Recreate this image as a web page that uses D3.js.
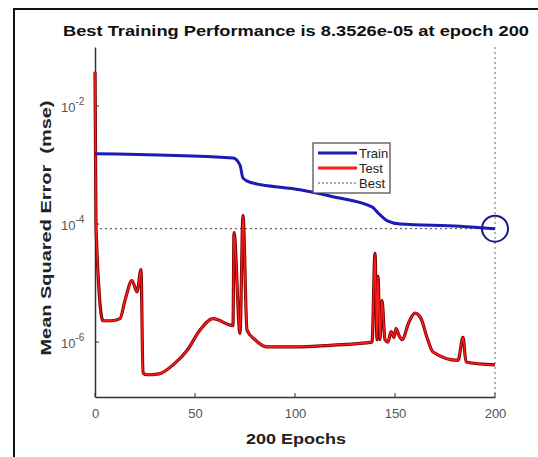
<!DOCTYPE html>
<html>
<head>
<meta charset="utf-8">
<script src="https://cdn.jsdelivr.net/npm/d3@7"></script>
<style>
  html, body { margin: 0; padding: 0; background: #fff; }
  svg { display: block; }
  text { font-family: "Liberation Sans", Arial, Helvetica, sans-serif; }
</style>
</head>
<body>
<svg id="chart" width="538" height="457"></svg>
<script>
// ---- data ----
const titleText = "Best Training Performance is 8.3526e-05 at epoch 200";
const xLabelText = "200 Epochs";
const yLabelText = "Mean Squared Error  (mse)";
const xTicks = [0, 50, 100, 150, 200];
const yTickExps = [-2, -4, -6];
const legendLabels = ["Train", "Test", "Best"];

const trainEpochs = [0, 69, 72.5, 74, 77.5, 102.5, 119, 138.5, 141.5, 146.5, 152.5, 182.5, 200];
const trainMse    = [1.55e-3, 1.32e-3, 1.0e-3, 6.0e-4, 5.1e-4, 3.8e-4, 2.9e-4, 1.95e-4, 1.55e-4, 1.12e-4, 1.0e-4, 9.2e-5, 8.3526e-5];

const testEpochs = [0, 0.5, 4, 8, 12.5, 15, 18.5, 21, 23, 24, 26, 32, 40, 46, 52.5, 59, 69, 69.5, 72.5, 74, 76, 80, 86, 100, 119, 138.5, 140, 141, 141.5, 142.5, 143.5, 145, 146.5, 148, 149.5, 150.5, 152, 153.5, 157, 160, 163, 166, 169, 181.5, 184, 185.5, 200];
const testMse    = [3.8e-2, 8.9e-5, 2.3e-6, 2.3e-6, 2.5e-6, 5.1e-6, 1.1e-5, 7.1e-6, 1.7e-5, 3.0e-7, 2.8e-7, 2.9e-7, 4.4e-7, 7.2e-7, 1.6e-6, 2.5e-6, 1.9e-6, 7.2e-5, 1.4e-6, 1.4e-4, 1.6e-6, 1.1e-6, 8.3e-7, 8.3e-7, 8.9e-7, 1.0e-6, 3.2e-5, 1.1e-6, 1.3e-5, 1.1e-6, 5.1e-6, 1.1e-6, 1.0e-6, 1.5e-6, 1.2e-6, 1.7e-6, 1.3e-6, 1.1e-6, 2.2e-6, 3.1e-6, 2.5e-6, 1.2e-6, 6.8e-7, 4.9e-7, 1.2e-6, 4.6e-7, 4.1e-7];

const bestEpoch = 200;
const bestMse = 8.3526e-5;

// ---- layout ----
const svg = d3.select("#chart");
const pL = 95, pR = 495, pT = 47, pB = 397;

const x = d3.scaleLinear().domain([0, 200]).range([pL, pR]);
const y = d3.scaleLog().domain([Math.pow(10, -6.93), Math.pow(10, -1)]).range([pB, pT]);

// outer frame
svg.append("rect").attr("x", 14).attr("y", 9).attr("width", 540).attr("height", 460)
  .attr("fill", "none").attr("stroke", "#111").attr("stroke-width", 2);

// title
svg.append("text").attr("x", 296).attr("y", 36).attr("text-anchor", "middle")
  .attr("font-size", 15).attr("font-weight", "bold").attr("fill", "#111")
  .attr("textLength", 466).attr("lengthAdjust", "spacingAndGlyphs")
  .text(titleText);

// best lines (dotted)
svg.append("line").attr("x1", x(0)).attr("x2", x(200)).attr("y1", y(bestMse)).attr("y2", y(bestMse))
  .attr("stroke", "#444").attr("stroke-width", 1).attr("stroke-dasharray", "2,3");
svg.append("line").attr("x1", x(bestEpoch)).attr("x2", x(bestEpoch)).attr("y1", pT).attr("y2", pB)
  .attr("stroke", "#666").attr("stroke-width", 1).attr("stroke-dasharray", "2,3");

// axes
const xAxis = d3.axisBottom(x).tickValues(xTicks).tickSize(0).tickPadding(0).tickFormat(d3.format("d"));
const gx = svg.append("g").attr("transform", `translate(0,${pB})`).call(xAxis);
gx.select(".domain").attr("stroke", "#333").attr("stroke-width", 1.5);
gx.selectAll(".tick text").attr("y", 12).attr("font-size", 13).attr("fill", "#555")
  .attr("font-family", "Liberation Sans, Arial, sans-serif");
svg.append("g").selectAll("line").data(xTicks).join("line")
  .attr("x1", d => x(d)).attr("x2", d => x(d)).attr("y1", pB).attr("y2", pB - 4)
  .attr("stroke", "#333").attr("stroke-width", 1);

const yAxis = d3.axisLeft(y).tickValues(yTickExps.map(e => Math.pow(10, e))).tickSize(0).tickFormat("");
const gy = svg.append("g").attr("transform", `translate(${pL},0)`).call(yAxis);
gy.select(".domain").attr("stroke", "#333").attr("stroke-width", 1.5);
svg.append("g").selectAll("line").data(yTickExps).join("line")
  .attr("x1", pL).attr("x2", pL + 4).attr("y1", d => y(Math.pow(10, d))).attr("y2", d => y(Math.pow(10, d)))
  .attr("stroke", "#333").attr("stroke-width", 1);
const ylab = svg.append("g").selectAll("text").data(yTickExps).join("text")
  .attr("x", 61).attr("y", d => y(Math.pow(10, d)) + 6)
  .attr("font-size", 13).attr("fill", "#555");
ylab.append("tspan").text("10");
ylab.append("tspan").attr("dy", -7).attr("font-size", 10).text(d => String(d));

// axis labels
svg.append("text").attr("x", 296).attr("y", 444).attr("text-anchor", "middle")
  .attr("font-size", 15).attr("font-weight", "bold").attr("fill", "#222")
  .attr("textLength", 100).attr("lengthAdjust", "spacingAndGlyphs")
  .text(xLabelText);
svg.append("text").attr("transform", "translate(51,228) rotate(-90)").attr("text-anchor", "middle")
  .attr("font-size", 15).attr("font-weight", "bold").attr("fill", "#222")
  .style("white-space", "pre")
  .attr("textLength", 255).attr("lengthAdjust", "spacingAndGlyphs")
  .text(yLabelText);

// lines
const line = d3.line().x(d => x(d[0])).y(d => y(d[1])).curve(d3.curveMonotoneX);
const trainData = trainEpochs.map((e, i) => [e, trainMse[i]]);
const testData = testEpochs.map((e, i) => [e, testMse[i]]);

svg.append("path").datum(testData).attr("d", line).attr("fill", "none")
  .attr("stroke", "#7a0000").attr("stroke-width", 3.2).attr("stroke-linejoin", "round");
svg.append("path").datum(testData).attr("d", line).attr("fill", "none")
  .attr("stroke", "#ff1a1a").attr("stroke-width", 1.6).attr("stroke-linejoin", "round");
svg.append("path").datum(trainData).attr("d", line).attr("fill", "none")
  .attr("stroke", "#1c1cb4").attr("stroke-width", 3).attr("stroke-linejoin", "round");

// best marker circle
svg.append("circle").attr("cx", x(bestEpoch)).attr("cy", y(bestMse)).attr("r", 13)
  .attr("fill", "none").attr("stroke", "#1a1a8a").attr("stroke-width", 2);

// legend
const lg = svg.append("g");
const lx = 313, ly = 143, lw = 77, lh = 50;
svg.append("clipPath").attr("id", "legclip").append("rect")
  .attr("x", lx).attr("y", ly).attr("width", lw - 1).attr("height", lh);
lg.append("rect").attr("x", lx).attr("y", ly).attr("width", lw).attr("height", lh)
  .attr("fill", "#fff").attr("stroke", "#444").attr("stroke-width", 1.2);
const legStyles = [
  {stroke: "#1c1cb4", w: 3, dash: null},
  {stroke: "#ff1a1a", w: 3, dash: null},
  {stroke: "#555", w: 1, dash: "2,2"}
];
legendLabels.forEach((lab, i) => {
  const yy = ly + 10 + i * 15;
  const s = legStyles[i];
  lg.append("line").attr("x1", lx + 5).attr("x2", lx + 44).attr("y1", yy).attr("y2", yy)
    .attr("stroke", s.stroke).attr("stroke-width", s.w).attr("stroke-dasharray", s.dash);
  lg.append("text").attr("x", lx + 46).attr("y", yy + 4.5).attr("font-size", 13)
    .attr("fill", "#222").attr("clip-path", "url(#legclip)").text(lab);
});
</script>
</body>
</html>
